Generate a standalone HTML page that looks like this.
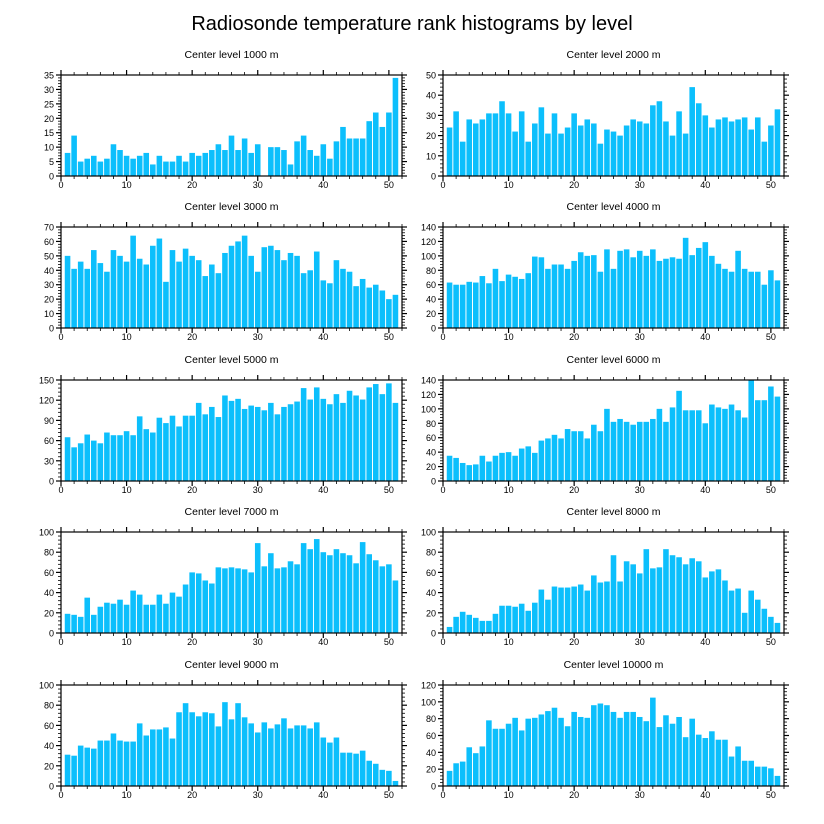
<!DOCTYPE html>
<html><head><meta charset="utf-8"><style>
body{margin:0;background:#fff;}
svg{display:block;font-family:"Liberation Sans",sans-serif;}
</style></head><body>
<svg id="chart" width="824" height="824" viewBox="0 0 824 824">
<text x="412" y="30" text-anchor="middle" font-size="20" fill="#000">Radiosonde temperature rank histograms by level</text>
</svg>
<script>
const levels = ["1000","2000","3000","4000","5000","6000","7000","8000","9000","10000"];
const yMax = [35,50,70,140,150,140,100,100,100,120];
const yStep = [5,10,10,20,30,20,20,20,20,20];
const xTicks = [0,10,20,30,40,50];
const v1000 = [8,14,5,6,7,5,6,11,9,7,6,7,8,4,7,5,5,7,5,8,7,8,9,11,9,14,9,13,8,11,0,10,10,9,4,12,14,9,7,11,6,12,17,13,13,13,19,22,17,22,34];
const v2000 = [24,32,17,28,26,28,31,31,37,31,22,32,17,26,34,21,31,21,24,31,25,28,26,16,23,22,20,25,28,27,26,35,37,27,20,32,21,44,36,30,24,28,29,27,28,29,23,29,17,25,33];
const v3000 = [50,41,46,41,54,45,39,54,50,46,64,48,44,57,62,32,54,46,55,50,47,36,44,38,52,57,60,64,50,39,56,57,54,47,52,50,38,40,53,33,31,47,41,39,29,34,28,30,26,20,23];
const v4000 = [63,60,60,64,63,72,62,82,65,74,71,68,76,99,98,82,88,88,82,93,105,100,101,78,109,82,107,109,98,107,100,109,93,96,98,96,125,101,111,119,100,89,82,78,107,82,78,78,60,80,66];
const v5000 = [65,50,56,69,60,56,72,68,68,74,68,96,77,72,94,86,97,81,97,97,116,99,110,95,127,119,122,107,112,110,105,116,99,110,114,118,138,121,139,122,114,129,116,134,127,121,139,144,129,145,116];
const v6000 = [35,32,25,22,23,35,27,35,39,40,35,45,48,39,56,59,64,59,72,69,69,59,78,69,100,82,86,82,78,82,82,86,100,82,102,125,98,98,98,80,106,102,100,106,98,88,140,112,112,131,117];
const v7000 = [19,18,16,35,18,26,30,29,33,28,42,38,28,28,38,29,40,36,48,60,59,52,49,65,64,65,64,63,60,89,66,79,64,65,71,68,89,83,93,80,77,83,79,77,69,90,78,72,66,68,52];
const v8000 = [6,16,21,18,15,12,12,19,27,27,26,29,22,30,43,33,46,45,45,46,48,42,57,50,51,77,51,71,68,59,83,64,65,83,77,75,68,74,71,55,61,63,52,42,44,20,42,33,24,16,10];
const v9000 = [31,30,40,38,37,45,45,52,45,44,44,62,50,56,56,58,47,73,82,73,69,73,72,59,83,66,82,68,62,53,63,57,61,67,57,60,60,57,63,48,43,48,33,33,32,35,25,22,16,15,5];
const v10000 = [18,27,29,46,39,47,78,68,68,74,81,66,80,81,85,89,93,81,71,88,82,81,96,98,96,88,81,88,88,82,77,105,70,84,74,82,58,80,61,57,65,55,55,35,47,30,30,23,23,21,12];
const series = [v1000,v2000,v3000,v4000,v5000,v6000,v7000,v8000,v9000,v10000];

const NS='http://www.w3.org/2000/svg';
const svg=document.getElementById('chart');
function mk(t,a,p){const e=document.createElementNS(NS,t);for(const k in a)e.setAttribute(k,a[k]);(p||svg).appendChild(e);return e;}
const colX=[61,443], rowY=[75,227,380,532,685], W=341, H=101, XMAX=52;
series.forEach((vals,i)=>{
  const px=colX[i%2], py=rowY[Math.floor(i/2)];
  const g=mk('g',{});
  
  
  const xs=x=>px+x/XMAX*W, ys=y=>py+H-y/yMax[i]*H;
  const t=mk('text',{x:px+W/2,y:py-17,'text-anchor':'middle','font-size':'10.5'},g);
  t.textContent='Center level '+levels[i]+' m';
  
  
  const bw=0.85/XMAX*W;
  vals.forEach((v,j)=>{
    if(v<=0)return;
    const r=mk('rect',{x:xs(j+1)-bw/2,y:ys(v),width:bw,height:ys(0)-ys(v),fill:'#0cbffc'},g);
    
    
  });
  const f=mk('rect',{x:px,y:py,width:W,height:H,fill:'none',stroke:'#000','stroke-width':1.2},g);
  
  
  for(let x=0;x<=XMAX;x+=2){
    const maj=x%10===0, L=maj?5:3;
    mk('line',{x1:xs(x),x2:xs(x),y1:py+H,y2:py+H+L,stroke:'#000','stroke-width':maj?1.2:0.8},g);
    mk('line',{x1:xs(x),x2:xs(x),y1:py,y2:py-L,stroke:'#000','stroke-width':maj?1.2:0.8},g);
  }
  xTicks.forEach(x=>{
    const l=mk('text',{x:xs(x),y:py+H+12,'text-anchor':'middle','font-size':'9'},g);
    l.textContent=x;
    
    
  });
  const minor=yStep[i]/5;
  for(let k=0;k<=Math.round(yMax[i]/minor);k++){
    const y=k*minor, maj=k%5===0, L=maj?5:3;
    mk('line',{x1:px,x2:px-L,y1:ys(y),y2:ys(y),stroke:'#000','stroke-width':maj?1.2:0.8},g);
    mk('line',{x1:px+W,x2:px+W+L,y1:ys(y),y2:ys(y),stroke:'#000','stroke-width':maj?1.2:0.8},g);
  }
  for(let y=0;y<=yMax[i];y+=yStep[i]){
    const l=mk('text',{x:px-7,y:ys(y)+3.5,'text-anchor':'end','font-size':'9'},g);
    l.textContent=y;
    
    
  }
});
</script>
</body></html>
